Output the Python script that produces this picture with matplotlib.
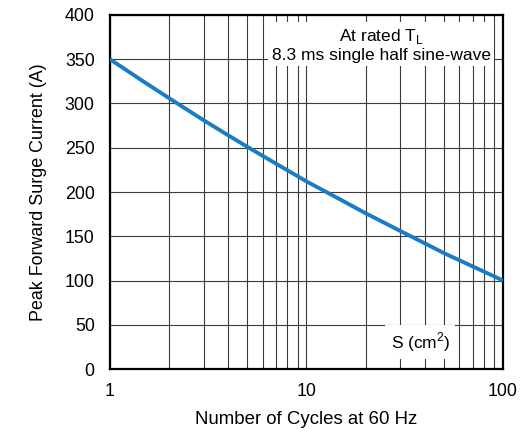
import matplotlib
matplotlib.use('Agg')
import matplotlib.pyplot as plt
import numpy as np

plt.rcParams['font.family'] = ['Liberation Sans', 'DejaVu Sans']

# surge rating curve, read at a few cycle counts
cycles = [1, 1.5, 2, 3, 4, 5, 7, 10, 15, 20, 30, 40, 50, 70, 100]
surge_amps = [350, 324, 306, 281, 264, 251, 232, 212, 191, 176, 156, 142, 131, 116, 100]

y_ticks = [0, 50, 100, 150, 200, 250, 300, 350, 400]
x_ticks = [1, 10, 100]
x_tick_labels = ['1', '10', '100']

fig = plt.figure(figsize=(5.22, 4.32), dpi=100)
ax = fig.add_axes([0.2107, 0.1458, 0.7529, 0.8195])

ax.set_xscale('log')
ax.set_xlim(1, 100)
ax.set_ylim(0, 400)

# log grid: decades plus every integer in between
ax.grid(True, which='both', color='#3a3a3a', linewidth=0.8)
ax.set_axisbelow(True)

ax.plot(cycles, surge_amps, color='#1a7cc3', linewidth=2.8,
        solid_capstyle='butt', solid_joinstyle='round', zorder=3)

ax.set_xticks(x_ticks)
ax.set_xticklabels(x_tick_labels)
ax.set_yticks(y_ticks)
ax.tick_params(which='both', length=0, labelsize=12.8, pad=11)
ax.tick_params(axis='x', pad=10)
ax.xaxis.set_minor_locator(matplotlib.ticker.LogLocator(base=10, subs=np.arange(2, 10)))
ax.xaxis.set_minor_formatter(matplotlib.ticker.NullFormatter())

for s in ax.spines.values():
    s.set_linewidth(1.6)
    s.set_color('black')

ax.set_xlabel('Number of Cycles at 60 Hz', fontsize=13.4, labelpad=8)
ax.set_ylabel('Peak Forward Surge Current (A)', fontsize=12.9, labelpad=13)

ax.text(0.69, 0.965, 'At rated T$_\\mathregular{L}$\n8.3 ms single half sine-wave',
        transform=ax.transAxes, ha='center', va='top', fontsize=12.5,
        linespacing=1.1, bbox=dict(boxstyle='square,pad=0.2', facecolor='white', edgecolor='none'),
        zorder=4)
ax.text(0.79, 0.077, 'S (cm$^\\mathregular{2}$)', transform=ax.transAxes,
        ha='center', va='center', fontsize=12.5,
        bbox=dict(boxstyle='square,pad=0.3', facecolor='white', edgecolor='none'), zorder=4)

fig.savefig('out.png', dpi=100)
